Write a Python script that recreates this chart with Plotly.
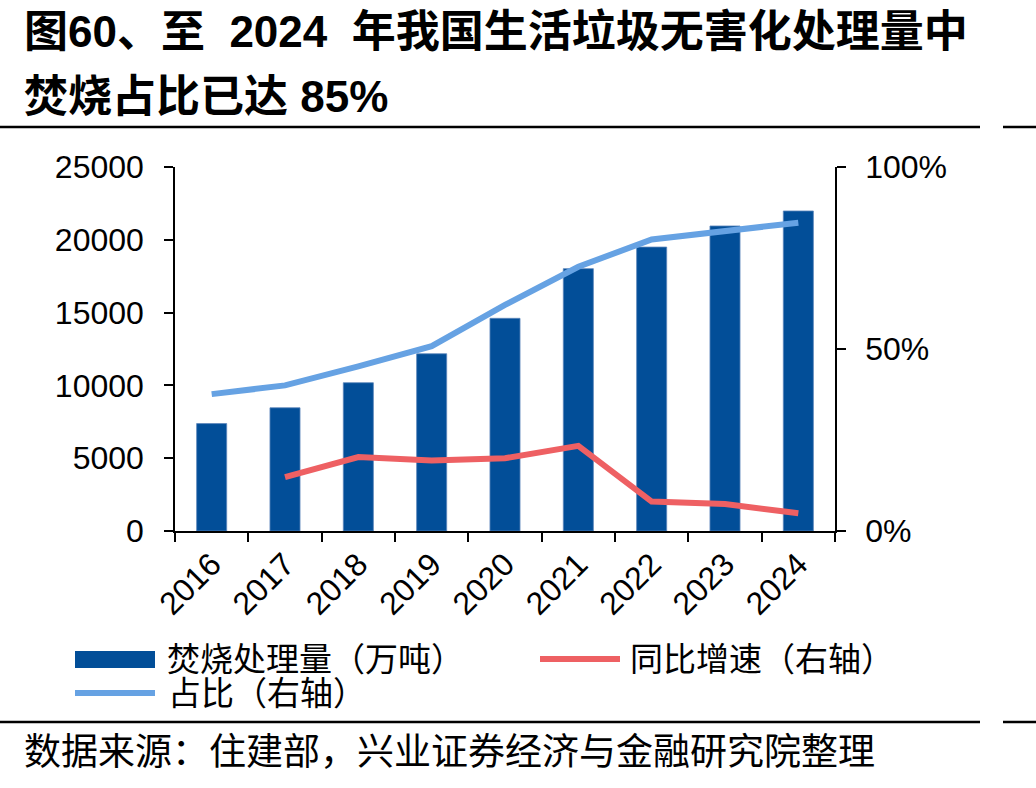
import plotly.graph_objects as go

# ---------------- data ----------------
years = ["2016", "2017", "2018", "2019", "2020", "2021", "2022", "2023", "2024"]
incineration = [7378, 8463, 10185, 12174, 14607, 18020, 19502, 20950, 21980]   # 万吨
share = [0.376, 0.400, 0.452, 0.508, 0.621, 0.726, 0.801, 0.822, 0.847]       # 占比（右轴）
yoy_years = ["2017", "2018", "2019", "2020", "2021", "2022", "2023", "2024"]
yoy = [0.148, 0.203, 0.194, 0.200, 0.234, 0.081, 0.074, 0.049]                 # 同比增速（右轴）

y_ticks = [0, 5000, 10000, 15000, 20000, 25000]
y2_ticks = [0, 0.5, 1.0]
y2_labels = ["0%", "50%", "100%"]

name_bar = "焚烧处理量（万吨）"
name_yoy = "同比增速（右轴）"
name_share = "占比（右轴）"

title_1 = "图60、至  2024  年我国生活垃圾无害化处理量中"
title_2 = "焚烧占比已达 85%"
source = "数据来源：住建部，兴业证券经济与金融研究院整理"

# ---------------- style ----------------
C_BAR = "#024E98"
C_YOY = "#EE6063"
C_SHARE = "#66A2E3"
FONT = "Liberation Sans, Arial, Noto Sans CJK SC, sans-serif"

W, H = 1036, 788
L, R, T, B = 175, 835, 167, 531  # plot area in pixels


def px(x):
    return (x - L) / (R - L)


def py(y):
    return (B - y) / (B - T)


fig = go.Figure()
fig.add_trace(go.Bar(
    x=years, y=incineration, name=name_bar,
    marker=dict(color=C_BAR, line=dict(color="#5d86bb", width=0.8)),
    showlegend=False,
))
fig.add_trace(go.Scatter(
    x=yoy_years, y=yoy, name=name_yoy, yaxis="y2", mode="lines",
    line=dict(color=C_YOY, width=6), showlegend=False,
))
fig.add_trace(go.Scatter(
    x=years, y=share, name=name_share, yaxis="y2", mode="lines",
    line=dict(color=C_SHARE, width=6), showlegend=False,
))

axis_common = dict(
    showline=True, linecolor="black", linewidth=1.5,
    ticks="outside", ticklen=9, tickwidth=1.5, tickcolor="black",
    showgrid=False, zeroline=False,
    tickfont=dict(family=FONT, size=32, color="black"),
)

fig.update_layout(
    width=W, height=H,
    margin=dict(l=L, r=W - R, t=T, b=H - B, pad=0),
    paper_bgcolor="white", plot_bgcolor="white",
    bargap=0.59,
    showlegend=False,
    xaxis=dict(type="category", tickson="boundaries", tickangle=-45,
               range=[-0.5, len(years) - 0.5], **axis_common),
    yaxis=dict(range=[0, 25000], tickvals=y_ticks, tickformat="d",
               ticklabelstandoff=14, **axis_common),
    yaxis2=dict(range=[0, 1], overlaying="y", side="right", tickvals=y2_ticks,
                ticktext=y2_labels, ticklabelstandoff=13, **axis_common),
)

shapes = []
annotations = []

# title
for txt, yy in ((title_1, 31), (title_2, 96)):
    annotations.append(dict(text="<b>" + txt + "</b>", x=px(22), y=py(yy),
                            xref="paper", yref="paper", xanchor="left", yanchor="middle",
                            showarrow=False, font=dict(family=FONT, size=44, color="black")))

# horizontal rules
for yy in (127, 722):
    shapes.append(dict(type="line", xref="paper", yref="paper",
                       x0=px(0), x1=px(980), y0=py(yy), y1=py(yy),
                       line=dict(color="black", width=2.5)))
    shapes.append(dict(type="line", xref="paper", yref="paper",
                       x0=px(1003), x1=px(1036), y0=py(yy), y1=py(yy),
                       line=dict(color="black", width=2.5)))

# legend (custom)
shapes.append(dict(type="rect", xref="paper", yref="paper",
                   x0=px(75), x1=px(155), y0=py(668), y1=py(651),
                   fillcolor=C_BAR, line=dict(width=0)))
shapes.append(dict(type="line", xref="paper", yref="paper",
                   x0=px(540), x1=px(620), y0=py(659), y1=py(659),
                   line=dict(color=C_YOY, width=6)))
shapes.append(dict(type="line", xref="paper", yref="paper",
                   x0=px(75), x1=px(155), y0=py(693), y1=py(693),
                   line=dict(color=C_SHARE, width=6)))
for txt, x0, y0 in ((name_bar, 165, 659), (name_yoy, 628, 659), (name_share, 166, 693)):
    annotations.append(dict(text=txt, x=px(x0), y=py(y0), xref="paper", yref="paper",
                            xanchor="left", yanchor="middle", showarrow=False,
                            font=dict(family=FONT, size=33, color="black")))

# source
annotations.append(dict(text=source, x=px(22), y=py(752), xref="paper", yref="paper",
                        xanchor="left", yanchor="middle", showarrow=False,
                        font=dict(family=FONT, size=37, color="black")))

fig.update_layout(shapes=shapes, annotations=annotations)

fig.write_html("out.html")
